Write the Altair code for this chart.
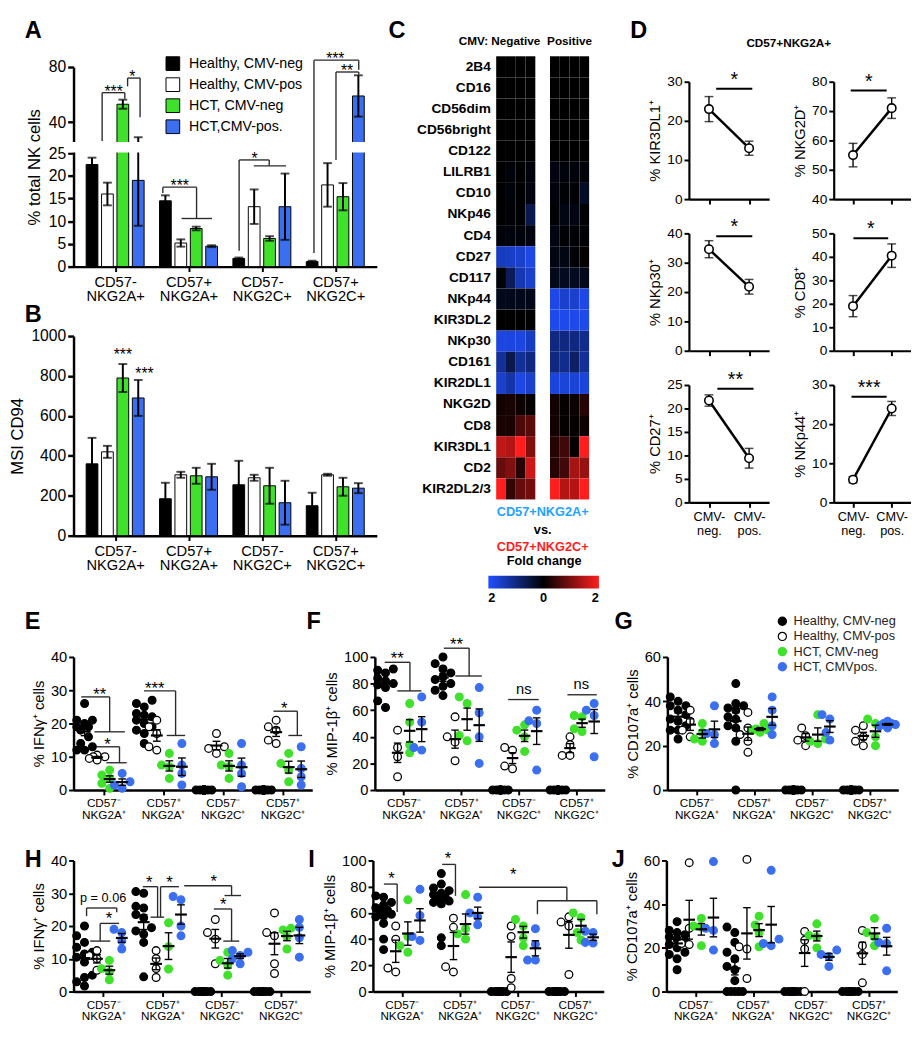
import altair as alt
import pandas as pd

FONT = "Liberation Sans"
GREEN = "#3fe12b"
BLUE = "#3b6ff0"
HEAT_BLUE = "#2050ff"
HEAT_RED = "#ff1e1e"
LIGHT_BLUE = "#1ea3ff"

# ---------------- categories ----------------
BAR_SERIES = ["Healthy, CMV-neg", "Healthy, CMV-pos", "HCT, CMV-neg", "HCT,CMV-pos."]
DOT_SERIES = ["Healthy, CMV-neg", "Healthy, CMV-pos", "HCT, CMV-neg", "HCT, CMVpos."]
AB_GROUPS = [["CD57-", "NKG2A+"], ["CD57+", "NKG2A+"], ["CD57-", "NKG2C+"], ["CD57+", "NKG2C+"]]
DOT_GROUPS = [["CD57⁻", "NKG2A⁺"], ["CD57⁺", "NKG2A⁺"], ["CD57⁻", "NKG2C⁺"], ["CD57⁺", "NKG2C⁺"]]
D_GROUPS = [["CMV-", "neg."], ["CMV-", "pos."]]

SERIES_FILL = ["#000000", "#ffffff", GREEN, BLUE]
SERIES_STROKE = ["#000000", "#000000", GREEN, BLUE]
SLOT = [-0.315, -0.105, 0.105, 0.315]

# ---------------- Panel A: % total NK cells (mean, SEM) ----------------
A_MEAN_HEALTHY_NEG = [22.5, 14.5, 1.8, 1.1]
A_SEM_HEALTHY_NEG = [1.5, 1.2, 0.2, 0.2]
A_MEAN_HEALTHY_POS = [16.0, 5.2, 13.2, 18.0]
A_SEM_HEALTHY_POS = [2.5, 0.8, 3.8, 4.8]
A_MEAN_HCT_NEG = [53.0, 8.4, 6.2, 15.4]
A_SEM_HCT_NEG = [3.3, 0.4, 0.5, 3.0]
A_MEAN_HCT_POS = [19.0, 4.5, 13.2, 59.0]
A_SEM_HCT_POS = [10.0, 0.2, 7.3, 15.0]
A_TICKS = [0, 5, 10, 15, 20, 25, 40, 80]
A_BRACKETS = [
    (-0.177, -0.177, 26.2, 61.4), (-0.177, 0.132, 61.4, 61.4), (0.132, 0.132, 61.4, 57),
    (0.17, 0.17, 72, 66), (0.17, 0.34, 72, 72), (0.34, 0.34, 72, 43.6),
    (0.65, 0.65, 17.5, 16.2), (0.65, 1.11, 17.5, 17.5), (1.11, 1.11, 17.5, 10.6), (0.906, 1.32, 10.6, 10.6),
    (1.69, 1.69, 23.5, 3.5), (1.69, 2.1, 23.5, 23.5), (2.1, 2.1, 23.5, 22.2), (1.89, 2.33, 22.2, 22.2),
    (2.71, 2.71, 85, 3), (2.71, 3.32, 85, 85), (3.32, 3.32, 85, 78),
    (3.01, 3.01, 76.4, 23.5), (3.01, 3.32, 76.4, 76.4), (3.32, 3.32, 76.4, 74.5),
]
A_STARS = [(-0.02, 61.4, "***"), (0.235, 72, "*"), (0.88, 17.5, "***"),
           (1.9, 23.5, "*"), (3.0, 85, "***"), (3.16, 76.4, "**")]

# ---------------- Panel B: MSI CD94 ----------------
B_MEAN_HEALTHY_NEG = [360, 185, 255, 150]
B_SEM_HEALTHY_NEG = [130, 80, 120, 65]
B_MEAN_HEALTHY_POS = [420, 305, 290, 305]
B_SEM_HEALTHY_POS = [30, 15, 15, 5]
B_MEAN_HCT_NEG = [790, 300, 250, 245]
B_SEM_HCT_NEG = [70, 40, 90, 45]
B_MEAN_HCT_POS = [690, 295, 165, 238]
B_SEM_HCT_POS = [90, 65, 110, 25]
B_TICKS = [0, 200, 400, 600, 800, 1000]
B_STARS = [(0.105, 880, "***"), (0.40, 785, "***")]

# ---------------- Panel C: heatmap ----------------
C_MARKERS = ["2B4", "CD16", "CD56dim", "CD56bright", "CD122", "LILRB1", "CD10", "NKp46", "CD4",
             "CD27", "CD117", "NKp44", "KIR3DL2", "NKp30", "CD161", "KIR2DL1", "NKG2D", "CD8",
             "KIR3DL1", "CD2", "KIR2DL2/3"]
C_NEG = [
    [0, 0, 0, 0], [0, 0, 0, 0], [0, 0, 0, 0], [0, 0, 0, 0], [0, 0, 0, 0],
    [0, -0.08, 0, -0.08], [0, -0.08, 0, -0.1], [0, -0.05, 0, -0.6], [-0.08, -0.1, -0.08, -0.12],
    [-1.5, -1.55, -1.6, -1.8], [-0.05, -0.7, -1.4, -1.6], [-0.2, -0.2, -0.2, -0.18],
    [0, 0, 0, 0], [-1.75, -1.75, -1.75, -1.5], [-1.2, -0.6, -1.2, -1.0], [-1.6, -1.3, -1.8, -1.6],
    [0.15, 0.2, 0.1, 0.05], [0.2, 0.2, 0.6, 0.7], [1.5, 1.4, 2.0, 1.0], [0.8, 1.0, 0.3, 1.6],
    [2.0, 0.4, 0.8, 0.9],
]
C_POS = [
    [0, 0, 0, 0], [0, 0, 0, 0], [0, 0, 0, 0], [0, 0, 0, 0], [0, 0, 0, 0],
    [-0.12, -0.08, -0.08, -0.08], [-0.1, -0.05, -0.05, -0.3], [-0.05, -0.15, -0.15, -0.05],
    [-0.15, -0.05, -0.05, -0.05], [-0.15, -0.15, -0.05, 0.05], [-0.2, -0.25, -0.25, -0.2],
    [-1.8, -1.6, -1.6, -1.8], [-1.85, -1.85, -1.85, -1.85], [-1.0, -1.0, -1.0, -1.1],
    [-1.0, -1.1, -0.8, -1.2], [-1.7, -1.7, -1.7, -1.7], [0.15, 0.05, 0.1, 0.3],
    [0.15, 0.05, 0.05, 0.1], [0.3, 0.5, 0.05, 2.0], [0.3, 0.5, 1.3, 1.2], [2.0, 1.4, 1.4, 2.0],
]

# ---------------- Panel D: CD57+NKG2A+ by CMV status ----------------
D_TITLES = ["% KIR3DL1⁺", "% NKG2D⁺", "% NKp30⁺", "% CD8⁺", "% CD27⁺", "% NKp44⁺"]
D_NEG_MEAN = [23, 55, 34.6, 19, 21.7, 5.8]
D_NEG_SEM = [3.2, 4, 2.9, 4.5, 1.2, 0.8]
D_POS_MEAN = [13, 71, 21.8, 40.5, 9.4, 24]
D_POS_SEM = [1.8, 3.5, 2.5, 5, 2.1, 1.8]
D_DOMAINS = [[0, 30], [40, 80], [0, 40], [0, 50], [0, 25], [0, 30]]
D_TICKS = [[0, 10, 20, 30], [40, 50, 60, 70, 80], [0, 10, 20, 30, 40],
           [0, 10, 20, 30, 40, 50], [0, 5, 10, 15, 20, 25], [0, 10, 20, 30]]
D_SIG = ["*", "*", "*", "*", "**", "***"]
D_SIG_Y = [28.2, 77, 39, 47.9, 24.2, 27]
D_SIG_X = [[0.18, 1.08], [-0.06, 0.87], [0.18, 1.08], [0.01, 0.91], [0.21, 1.11], [-0.04, 0.87]]

# ---------------- Panels E-J: individual donors ----------------
E_DATA = [
    [[26, 21, 21, 20, 19, 19, 18, 16, 14, 13, 12, 12], [27, 26, 25, 23, 22.5, 22, 21, 20, 19, 18, 17, 14],
     [0, 0, 0, 0, 0, 0, 0, 0, 0, 0, 0, 0], [0, 0, 0, 0, 0, 0, 0, 0, 0, 0, 0, 0]],
    [[10.5, 10, 10, 9, 9.5], [21, 19, 17, 13, 12], [17, 13, 12.5, 11], [21, 19, 18, 15, 14]],
    [[6, 4.5, 3.5, 2, 0.5], [11, 7.5, 7, 3.5], [11, 7.5, 7, 3.5], [11, 8, 6, 2.5]],
    [[5, 2.5, 1.5, 0.5], [14, 7.5, 5, 1.5], [14, 7.5, 5, 1], [13, 6.5, 4, 1.5]],
]
E_BRACKETS = [
    (-0.37, 0.105, 28, 28), (0.105, 0.105, 28, 17.5), (-0.15, 0.36, 17.5, 17.5),
    (-0.11, 0.27, 13, 13), (0.27, 0.27, 13, 8.2), (0.05, 0.39, 8.2, 8.2),
    (0.68, 1.21, 29.8, 29.8), (1.21, 1.21, 29.8, 16.4), (1.06, 1.37, 16.4, 16.4),
    (2.85, 3.25, 23.7, 23.7), (3.25, 3.25, 23.7, 16.4), (3.10, 3.33, 16.4, 16.4),
]
E_STARS = [(-0.06, 28, "**"), (0.07, 13, "*"), (0.86, 29.8, "***"), (3.03, 23.7, "*")]

F_DATA = [
    [[91, 90, 88, 84, 82, 80, 79, 77, 67, 62], [100, 95, 91, 88, 85, 83, 80, 78, 75, 71],
     [0, 0, 0, 0, 0, 0, 0, 0, 0, 0], [0, 0, 0, 0, 0, 0, 0, 0, 0, 0]],
    [[45, 32, 25, 10], [55, 40, 36, 22], [32, 30, 18, 16], [40, 34, 26, 26]],
    [[65, 51, 34, 28], [70, 65, 41, 37], [49, 45, 40, 29], [56, 55, 46, 44]],
    [[70, 51, 32, 30], [77, 58, 40, 20], [60, 52, 50, 15], [65, 60, 56, 25]],
]
F_BRACKETS = [
    (-0.33, 0.11, 96, 96), (0.11, 0.11, 96, 74.5), (-0.11, 0.31, 74.5, 74.5),
    (0.70, 1.14, 106.6, 106.6), (1.14, 1.14, 106.6, 85.7), (0.9, 1.36, 85.7, 85.7),
    (1.82, 2.35, 68, 68), (2.85, 3.36, 71.6, 71.6),
]
F_STARS = [(-0.11, 96, "**"), (0.92, 106.6, "**")]
F_NS = [(2.09, 68, "ns"), (3.09, 71.6, "ns")]

G_DATA = [
    [[42, 40, 38, 38, 36, 34, 32, 31, 29, 27, 27, 23], [48, 39, 38, 37, 36, 33, 32, 29, 28, 22, 0],
     [0, 0, 0, 0, 0, 0, 0, 0, 0, 0, 0, 0], [0, 0, 0, 0, 0, 0, 0, 0, 0, 0, 0, 0]],
    [[36, 31, 27, 24], [35, 28, 25, 22, 17], [28, 24.5, 22.5, 20], [29, 27, 24, 22, 20]],
    [[30, 26, 23, 22], [30, 27.5, 27, 27, 26], [34, 23, 22, 21], [32, 30, 24, 20]],
    [[38, 25.5, 25, 21], [42, 36, 29, 25], [34, 32, 26, 22.5], [31, 30, 30, 29.5, 29, 28]],
]

H_DATA = [
    [[20, 17, 15, 13.5, 12, 11.5, 10.5, 9, 5, 4.3, 3, 1.7],
     [30.5, 30, 26, 25.5, 23.5, 22.5, 19.5, 18.5, 17.5, 15, 4.5],
     [0, 0, 0, 0, 0, 0, 0, 0, 0, 0, 0, 0], [0, 0, 0, 0, 0, 0, 0, 0, 0, 0, 0, 0]],
    [[12.5, 11, 10, 6.5], [12.5, 10, 7, 4.3], [22, 18, 16, 8.5], [24, 18, 17, 8.5, 5.5]],
    [[9.5, 7, 6, 3.6], [21, 13.7, 6.9], [12, 9.5, 8, 5], [19.3, 18.8, 16.7, 13]],
    [[19, 18, 15.5, 13], [29, 28, 20, 17], [12.5, 12, 11, 10, 8.5], [22, 19.6, 16.4, 10.5]],
]
H_BRACKETS = [
    (-0.28, 0.23, 25.5, 25.5), (-0.28, -0.28, 25.5, 23), (0.23, 0.23, 25.5, 24.2),
    (-0.05, 0.27, 20.8, 20.8), (-0.05, -0.05, 20.8, 15.4), (-0.22, 0.12, 15.4, 15.4),
    (0.67, 0.92, 32, 32), (0.92, 0.92, 32, 22.7), (0.8, 1.03, 22.7, 22.7),
    (0.97, 1.28, 32, 32), (0.97, 0.97, 32, 22.7),
    (1.37, 2.17, 32.3, 32.3), (2.17, 2.17, 32.3, 29.3), (2.05, 2.33, 29.3, 29.3),
    (1.87, 2.17, 25.2, 25.2), (2.17, 2.17, 25.2, 15.4), (2.03, 2.3, 15.4, 15.4),
]
H_STARS = [(0.1, 20.8, "*"), (0.78, 32, "*"), (1.12, 32, "*"), (1.87, 32.3, "*"), (2.03, 25.2, "*")]
H_P = [(0.0, 25.5, "p = 0.06")]

I_DATA = [
    [[73, 72, 68, 66, 64, 62, 61, 59, 58, 57, 52, 40, 32],
     [90, 82, 79, 77, 75, 74, 72, 70, 69, 68, 67, 41, 35],
     [0, 0, 0, 0, 0, 0, 0, 0, 0, 0, 0, 0, 0], [0, 0, 0, 0, 0, 0, 0, 0, 0, 0, 0, 0, 0]],
    [[50, 40, 18, 15], [56, 49, 19, 15], [50, 42, 10, 3], [57, 53, 50, 13]],
    [[70, 42, 35, 30], [74, 48, 44, 40], [55, 50, 41, 35], [60, 56.5, 45, 39.3]],
    [[78, 58, 42, 39], [72, 60, 57, 51], [48, 36, 24, 24], [46, 45, 37.5, 37]],
]
I_BRACKETS = [
    (-0.31, -0.08, 82, 82), (-0.08, -0.08, 82, 60.7),
    (0.70, 0.93, 97, 97), (0.93, 0.93, 97, 73),
    (1.34, 2.86, 79.6, 79.6), (2.86, 2.86, 79.6, 69.3), (2.35, 3.38, 69.3, 69.3),
    (2.35, 2.35, 69.3, 59), (3.38, 3.38, 69.3, 59),
]
I_STARS = [(-0.18, 82, "*"), (0.8, 97, "*"), (1.93, 85, "*")]

J_DATA = [
    [[32, 28, 27, 26, 25, 24, 23, 21.5, 20, 18, 17, 15, 10],
     [29.5, 27, 22.5, 18, 15, 11.5, 10, 5, 0, 0, 0, 0, 0],
     [0, 0, 0, 0, 0, 0, 0, 0, 0, 0, 0, 0, 0], [0, 0, 0, 0, 0, 0, 0, 0, 0, 0, 0, 0, 0]],
    [[59, 29, 22, 21.5], [60.5, 20.5, 19.5, 6], [27.5, 23.5, 19.5, 0], [28, 21, 17, 4]],
    [[33.5, 30, 29.5, 21], [34.5, 30.5, 27, 20.5], [31, 25.7, 25, 20], [33.5, 27, 25, 21]],
    [[59.5, 29, 28, 19], [55.5, 24, 22, 21], [19, 17, 16, 11.5], [29, 22.5, 22, 9.5]],
]


# ---------------- helpers ----------------
def label_expr(groups):
    inner = ",".join("[" + ",".join("'" + s + "'" for s in g) + "]" for g in groups)
    return "[" + inner + "][datum.value]"


def note(text, x, y, size=24, weight="bold", align="left", baseline="top", color="black", opacity=1.0):
    return alt.Chart(pd.DataFrame({"t": [text]})).mark_text(
        align=align, baseline=baseline, fontSize=size, fontWeight=weight,
        color=color, opacity=opacity, font=FONT,
    ).encode(text="t:N", x=alt.value(x), y=alt.value(y))


def segs_layer(segs, width=1.4, color="#2b2b2b"):
    df = pd.DataFrame(segs, columns=["x1", "x2", "y1", "y2"])
    return alt.Chart(df).mark_rule(strokeWidth=width, color=color).encode(
        x="x1:Q", x2="x2:Q", y="y1:Q", y2="y2:Q")


def marks_layer(items, size=16, dy=0.0):
    df = pd.DataFrame(items, columns=["x", "y", "t"])
    return alt.Chart(df).mark_text(fontSize=size, baseline="alphabetic", dy=dy, font=FONT,
                                   color="black").encode(x="x:Q", y="y:Q", text="t:N")


def swarm(vals, px_y, px_x, diam=8.0, step=4.0, reach=2):
    cands = [0.0]
    for k in range(1, reach + 1):
        cands += [-k * step, k * step]
    order = sorted(range(len(vals)), key=lambda i: vals[i])
    placed = []
    offs = [0.0] * len(vals)
    for i in order:
        yy = vals[i] * px_y
        best, best_d = 0.0, -1.0
        for c in cands:
            d = min((((c - px) ** 2 + (yy - py) ** 2) ** 0.5 for px, py in placed), default=1e9)
            if d >= diam:
                best = c
                break
            if d > best_d:
                best, best_d = c, d
        placed.append((best, yy))
        offs[i] = best / px_x
    return offs


def bar_panel(means, sems, yscale, yaxis, width, height, legend, extra):
    rows = []
    for si, name in enumerate(BAR_SERIES):
        for g in range(4):
            rows.append({"series": name, "x": g + SLOT[si], "m": means[si][g], "e": sems[si][g]})
    df = pd.DataFrame(rows)
    base = alt.Chart(df).transform_calculate(lo="datum.m - datum.e", hi="datum.m + datum.e")
    xenc = alt.X("x:Q", scale=alt.Scale(domain=[-0.5, 3.5], nice=False, zero=False),
                 axis=alt.Axis(values=[0, 1, 2, 3], tickCount=4, labelExpr=label_expr(AB_GROUPS), title=None,
                               labelFontSize=15, labelLineHeight=15, tickSize=5, tickWidth=2,
                               domainWidth=2.5, labelPadding=3, labelOverlap=False, labelFlush=False))
    bars = base.mark_bar(orient="vertical", size=12, stroke="black", strokeWidth=1).encode(
        x=xenc, y=alt.Y("m:Q", scale=yscale, axis=yaxis, stack=None),
        fill=alt.Fill("series:N", scale=alt.Scale(domain=BAR_SERIES, range=SERIES_FILL), legend=legend))
    err = base.mark_rule(color="black", strokeWidth=2).encode(x="x:Q", y="lo:Q", y2="hi:Q")
    cap_hi = base.mark_tick(orient="horizontal", size=9, thickness=2, color="black").encode(x="x:Q", y="hi:Q")
    cap_lo = base.mark_tick(orient="horizontal", size=9, thickness=2, color="black").encode(x="x:Q", y="lo:Q")
    return alt.layer(bars, err, cap_hi, cap_lo, *extra).properties(width=width, height=height)


def dot_panel(data, ytitle, dom, ticks, width, height, letter, lxy, segs=(), stars=(), star_dy=3,
              texts=(), legend=None):
    px_y = height / (dom[1] - dom[0])
    px_x = width / 4.0
    rows = []
    for si, name in enumerate(DOT_SERIES):
        for g in range(4):
            vals = data[si][g]
            offs = swarm(vals, px_y, px_x)
            for v, o in zip(vals, offs):
                rows.append({"series": name, "xc": g + SLOT[si], "x": g + SLOT[si] + o, "v": v})
    df = pd.DataFrame(rows)
    xs = alt.Scale(domain=[-0.5, 3.5], nice=False, zero=False)
    ys = alt.Scale(domain=dom, nice=False, zero=False)
    xaxis = alt.Axis(values=[0, 1, 2, 3], tickCount=4, labelExpr=label_expr(DOT_GROUPS), title=None,
                     labelFontSize=12, labelLineHeight=12, tickSize=5, tickWidth=2, domainWidth=2.5,
                     labelPadding=3, labelOverlap=False, labelFlush=False)
    yaxis = alt.Axis(values=ticks, tickCount=len(ticks), title=ytitle, titleFontSize=15, labelFontSize=15,
                     tickSize=5, tickWidth=2, domainWidth=2.5, labelPadding=2, titlePadding=4,
                     labelOverlap=False)
    pts = alt.Chart(df).mark_point(shape="circle", filled=True, size=62, strokeWidth=1.3, opacity=1).encode(
        x=alt.X("x:Q", scale=xs, axis=xaxis), y=alt.Y("v:Q", scale=ys, axis=yaxis),
        fill=alt.Fill("series:N", scale=alt.Scale(domain=DOT_SERIES, range=SERIES_FILL), legend=legend),
        stroke=alt.Stroke("series:N", scale=alt.Scale(domain=DOT_SERIES, range=SERIES_STROKE), legend=legend))
    stats = alt.Chart(df).transform_aggregate(
        m="mean(v)", se="stderr(v)", groupby=["series", "xc"]
    ).transform_calculate(
        lo="datum.m - datum.se", hi="datum.m + datum.se", ml="datum.xc - 0.1", mr="datum.xc + 0.1",
        cl="datum.xc - 0.065", cr="datum.xc + 0.065")
    mean = stats.mark_rule(color="black", strokeWidth=2.2).encode(x="ml:Q", x2="mr:Q", y="m:Q")
    err = stats.mark_rule(color="black", strokeWidth=1.4).encode(x="xc:Q", y="lo:Q", y2="hi:Q")
    chi = stats.mark_rule(color="black", strokeWidth=1.4).encode(x="cl:Q", x2="cr:Q", y="hi:Q")
    clo = stats.mark_rule(color="black", strokeWidth=1.4).encode(x="cl:Q", x2="cr:Q", y="lo:Q")
    layers = [pts, err, chi, clo, mean]
    if segs:
        layers.append(segs_layer(segs))
    if stars:
        layers.append(marks_layer(stars, 17, star_dy))
    for items, size, dy in texts:
        layers.append(marks_layer(items, size, dy))
    layers.append(note(letter, lxy[0], lxy[1]))
    return alt.layer(*layers).properties(width=width, height=height)


def d_chart(i, bottom, width, height, top_pad, extras):
    df = pd.DataFrame({"x": [0, 1], "m": [D_NEG_MEAN[i], D_POS_MEAN[i]], "e": [D_NEG_SEM[i], D_POS_SEM[i]]})
    base = alt.Chart(df).transform_calculate(lo="datum.m - datum.e", hi="datum.m + datum.e")
    xs = alt.Scale(domain=[-0.5, 1.5], nice=False, zero=False)
    ys = alt.Scale(domain=D_DOMAINS[i], range=[height, top_pad], nice=False, zero=False)
    xaxis = alt.Axis(values=[0, 1], tickCount=2, labels=bottom, labelExpr=label_expr(D_GROUPS), title=None,
                     labelFontSize=13, labelLineHeight=15, tickSize=5, tickWidth=2, domainWidth=2.2,
                     labelPadding=3, labelOverlap=False, labelFlush=False)
    yaxis = alt.Axis(values=D_TICKS[i], tickCount=len(D_TICKS[i]), title=D_TITLES[i], titleFontSize=15,
                     labelFontSize=14, tickSize=5, tickWidth=2, domainWidth=2.2, labelPadding=2,
                     titlePadding=4, labelOverlap=False)
    err = base.mark_rule(color="black", strokeWidth=1.4).encode(
        x=alt.X("x:Q", scale=xs, axis=xaxis), y=alt.Y("lo:Q", scale=ys, axis=yaxis), y2="hi:Q")
    chi = base.mark_tick(orient="horizontal", size=9, thickness=1.5, color="black").encode(x="x:Q", y="hi:Q")
    clo = base.mark_tick(orient="horizontal", size=9, thickness=1.5, color="black").encode(x="x:Q", y="lo:Q")
    line = base.mark_line(color="black", strokeWidth=2.5).encode(x="x:Q", y="m:Q")
    pts = base.mark_point(shape="circle", filled=True, fill="white", stroke="black", strokeWidth=1.6,
                          size=75, opacity=1).encode(x="x:Q", y="m:Q")
    sig = pd.DataFrame({"x1": [D_SIG_X[i][0]], "x2": [D_SIG_X[i][1]], "y": [D_SIG_Y[i]], "t": [D_SIG[i]]})
    sig_rule = alt.Chart(sig).mark_rule(strokeWidth=2, color="black").encode(x="x1:Q", x2="x2:Q", y="y:Q")
    sig_text = alt.Chart(sig).transform_calculate(xm="(datum.x1 + datum.x2) / 2").mark_text(
        fontSize=20, baseline="alphabetic", dy=-3, font=FONT).encode(x="xm:Q", y="y:Q", text="t:N")
    return alt.layer(err, chi, clo, line, pts, sig_rule, sig_text, *extras).properties(width=width, height=height)


def ind(c):
    return c.resolve_scale(x="independent", y="independent", fill="independent",
                           stroke="independent", color="independent")


# ---------------- Panel A ----------------
a_gap = alt.Chart(pd.DataFrame({"y1": [25.05], "y2": [25.95]})).mark_rect(color="white").encode(
    x=alt.value(-10), x2=alt.value(312), y="y1:Q", y2="y2:Q")
a_legend = alt.Legend(orient="none", legendX=94, legendY=0, title=None, symbolType="square",
                      symbolSize=196, symbolStrokeColor="black", symbolStrokeWidth=1, labelFontSize=14.5,
                      labelOffset=9, rowPadding=2.5, padding=0, labelLimit=250)
A = bar_panel(
    [A_MEAN_HEALTHY_NEG, A_MEAN_HEALTHY_POS, A_MEAN_HCT_NEG, A_MEAN_HCT_POS],
    [A_SEM_HEALTHY_NEG, A_SEM_HEALTHY_POS, A_SEM_HCT_NEG, A_SEM_HCT_POS],
    alt.Scale(domain=[0, 25, 26, 80], range=[215, 99, 87, 11], nice=False, zero=False),
    alt.Axis(values=A_TICKS, tickCount=len(A_TICKS), title="% total NK cells", titleFontSize=17,
             labelFontSize=16, tickSize=6, tickWidth=2.5, domainWidth=2.5, labelPadding=2, titlePadding=5,
             labelOverlap=False),
    310, 215, a_legend,
    [a_gap, segs_layer(A_BRACKETS), marks_layer(A_STARS, 16, 4), note("A", -50, -38)],
)

# ---------------- Panel B ----------------
B = bar_panel(
    [B_MEAN_HEALTHY_NEG, B_MEAN_HEALTHY_POS, B_MEAN_HCT_NEG, B_MEAN_HCT_POS],
    [B_SEM_HEALTHY_NEG, B_SEM_HEALTHY_POS, B_SEM_HCT_NEG, B_SEM_HCT_POS],
    alt.Scale(domain=[0, 1000], nice=False, zero=False),
    alt.Axis(values=B_TICKS, tickCount=len(B_TICKS), format="d", title="MSI CD94", titleFontSize=17,
             labelFontSize=16, tickSize=6, tickWidth=2.5, domainWidth=2.5, labelPadding=2, titlePadding=5,
             labelOverlap=False),
    310, 204, None,
    [marks_layer(B_STARS, 16, 0), note("B", -50, -33)],
)

# ---------------- Panel C ----------------
heat_rows = []
for i, mk in enumerate(C_MARKERS):
    for j in range(4):
        heat_rows.append({"marker": mk, "x0": j, "x1": j + 1, "fc": C_NEG[i][j]})
        heat_rows.append({"marker": mk, "x0": 5.5 + j, "x1": 6.5 + j, "fc": C_POS[i][j]})
hdf = pd.DataFrame(heat_rows)
heat_scale = alt.Scale(domain=[-2, 0, 2], range=[HEAT_BLUE, "#000000", HEAT_RED], interpolate="rgb")
heat = alt.Chart(hdf).mark_rect().encode(
    x=alt.X("x0:Q", scale=alt.Scale(domain=[0, 9.5], nice=False, zero=False), axis=None),
    x2="x1:Q",
    y=alt.Y("marker:N", sort=C_MARKERS, scale=alt.Scale(paddingInner=0, paddingOuter=0),
            axis=alt.Axis(title=None, ticks=False, domain=False, labelFontSize=14, labelFontWeight="bold",
                          labelPadding=6)),
    color=alt.Color("fc:Q", scale=heat_scale, legend=alt.Legend(
        type="gradient", orient="none", legendX=-8, legendY=510, direction="horizontal", gradientLength=113,
        gradientThickness=13, title="Fold change", titleFontSize=13, titleFontWeight="bold",
        titleAnchor="middle", titlePadding=8, values=[-2, 0, 2],
        labelExpr="format(abs(datum.value), 'd')", labelFontSize=13, labelFontWeight="bold",
        labelOffset=4, padding=0, gradientStrokeWidth=0)),
)
C = alt.layer(
    heat,
    note("C", -110, -38),
    note("CMV: Negative", 45, -16, size=12, align="right", baseline="middle"),
    note("Positive", 75, -16, size=12, align="center", baseline="middle"),
    note("CD57+NKG2A+", 47.5, 466, size=13, align="center", baseline="middle", color=LIGHT_BLUE),
    note("vs.", 47.5, 484, size=13, align="center", baseline="middle"),
    note("CD57+NKG2C+", 47.5, 502, size=13, align="center", baseline="middle", color=HEAT_RED),
).properties(width=95, height=453)

# ---------------- Panel D ----------------
d_charts = []
for i in range(6):
    row = i // 2
    left = (i % 2 == 0)
    extras = []
    if left and row == 0:
        extras = [note("D", -60, -38), note("CD57+NKG2A+", 102, -13, size=12, align="center", baseline="middle")]
    elif left:
        extras = [note("D", -60, -24, opacity=0)]
    if row == 0:
        d_charts.append(d_chart(i, False, 82 if left else 79, 146, 26, extras))
    else:
        d_charts.append(d_chart(i, row == 2, 82 if left else 79, 120, 0, extras))
D = ind(alt.vconcat(
    ind(alt.hconcat(d_charts[0], d_charts[1], spacing=66, bounds="flush")),
    ind(alt.hconcat(d_charts[2], d_charts[3], spacing=66, bounds="flush")),
    ind(alt.hconcat(d_charts[4], d_charts[5], spacing=66, bounds="flush")),
    spacing=4,
))

# ---------------- Panels E-J ----------------
g_legend = alt.Legend(orient="none", legendX=111, legendY=-43, title=None, symbolType="circle",
                      symbolSize=70, symbolStrokeWidth=1.2, labelFontSize=13, labelColor="#222222",
                      rowPadding=0.5, labelOffset=5, padding=0, labelLimit=250)
E = dot_panel(E_DATA, "% IFNγ⁺ cells", [0, 40], [0, 10, 20, 30, 40], 244, 136, "E", (-50, -48),
              E_BRACKETS, E_STARS, 3)
F = dot_panel(F_DATA, "% MIP-1β⁺ cells", [0, 100], [0, 20, 40, 60, 80, 100], 235, 136, "F", (-70, -48),
              F_BRACKETS, F_STARS, 2, texts=[(F_NS, 15, -6)])
G = dot_panel(G_DATA, "% CD107a⁺ cells", [0, 60], [0, 20, 40, 60], 236, 136, "G", (-54, -48),
              legend=g_legend)
H = dot_panel(H_DATA, "% IFNγ⁺ cells", [0, 40], [0, 10, 20, 30, 40], 242, 134, "H", (-50, -12),
              H_BRACKETS, H_STARS, 1, texts=[(H_P, 13, -6)])
I = dot_panel(I_DATA, "% MIP-1β⁺ cells", [0, 100], [0, 20, 40, 60, 80, 100], 236, 134, "I", (-66, -12),
              I_BRACKETS, I_STARS, 0)
J = dot_panel(J_DATA, "% CD107a⁺ cells", [0, 60], [0, 20, 40, 60], 236, 134, "J", (-56, -12))

AB = ind(alt.vconcat(A, B, spacing=0))
top = ind(alt.hconcat(ind(alt.hconcat(AB, C, spacing=10)), D, spacing=32))
mid = ind(alt.hconcat(E, F, G, spacing=64, bounds="flush"))
bot = ind(alt.hconcat(H, I, J, spacing=64, bounds="flush"))

chart = ind(alt.vconcat(ind(alt.vconcat(top, mid, spacing=5)), bot, spacing=29)).properties(
    padding=0
).configure(font=FONT).configure_view(stroke=None).configure_axis(
    grid=False, domainColor="black", tickColor="black", labelColor="black", titleColor="black",
    labelFont=FONT, titleFont=FONT, titleFontWeight="normal",
).configure_legend(labelFont=FONT, titleFont=FONT).configure_text(font=FONT)

chart.save("out.html", embed_options={"renderer": "svg", "actions": False})
